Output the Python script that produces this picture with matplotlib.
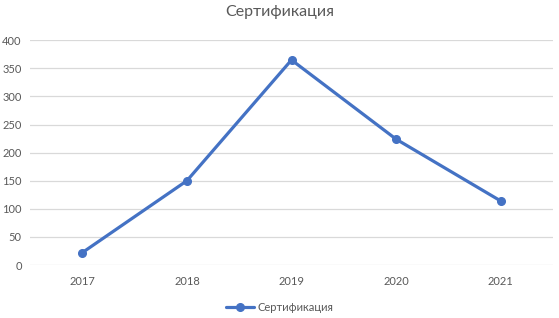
import matplotlib.pyplot as plt

# values
years = ["2017", "2018", "2019", "2020", "2021"]
values = [22, 150, 365, 224, 114]
series_name = "Сертификация"

plt.rcParams['font.family'] = ['Lato', 'DejaVu Sans']

fig = plt.figure(figsize=(5.59, 3.18), dpi=100)
ax = fig.add_axes([30/559, 1 - 265/318, 523/559, (265 - 40.3)/318])

x = range(len(years))
ax.plot(x, values, color="#4472C4", lw=2.3, marker="o", markersize=5.5,
        label=series_name, solid_capstyle="round")

ax.set_xlim(-0.5, len(years) - 0.5)
ax.set_ylim(0, 400)
ax.set_yticks(range(0, 401, 50))
ax.set_xticks(list(x))
ax.set_xticklabels(years)
ax.grid(axis="y", color="#D9D9D9", lw=0.9)
ax.set_axisbelow(True)
for s in ax.spines.values():
    s.set_visible(False)
ax.tick_params(length=0, labelsize=8, labelcolor="#595959")
ax.tick_params(axis="y", pad=6)
ax.tick_params(axis="x", pad=8)

fig.suptitle(series_name, y=0.985, fontsize=11.5, color="#595959")
fig.legend(loc="lower center", bbox_to_anchor=(0.5, -0.015), frameon=False,
           fontsize=8, labelcolor="#595959", handlelength=2.5, handletextpad=0.3)

fig.savefig("out.png", dpi=100)
